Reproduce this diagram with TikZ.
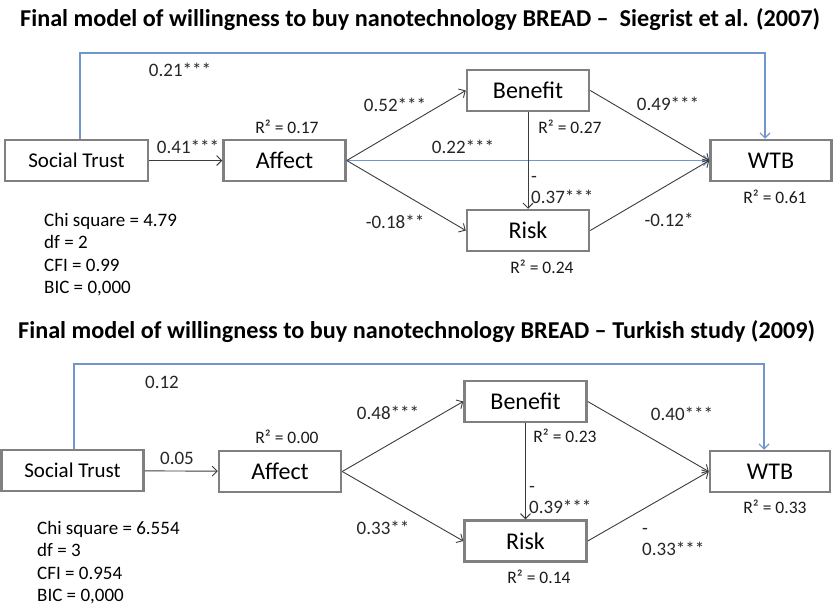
\documentclass[tikz,border=0pt]{standalone}
\usepackage{fontspec}
\setmainfont{Carlito}
\usetikzlibrary{arrows.meta}
\definecolor{BoxGray}{RGB}{128,128,128}
\definecolor{LineGray}{RGB}{60,60,60}
\definecolor{TrustBlue}{RGB}{112,150,206}

\begin{document}
\begin{tikzpicture}[x=1pt,y=-1pt]
  \tikzset{BoxStyle/.style = {
    shape          = rectangle,
    draw           = BoxGray,
    fill           = white,
    line width     = 2.5pt,
    text           = black,
    inner sep      = 0pt,
    minimum width  = 122pt,
    minimum height = 41pt,
    font           = \fontsize{24}{28}\selectfont
    }
  }
  \tikzset{EdgeStyle/.style = {
    draw       = LineGray,
    line width = 0.9pt,
    -{Straight Barb[length=5pt,width=10pt]}
    }
  }
  \tikzset{TrustStyle/.style = {
    draw       = TrustBlue,
    line width = 1.2pt,
    -{Straight Barb[length=5pt,width=10pt]}
    }
  }
  \tikzset{EdgeLabelStyle/.style = {
    inner sep = 0pt,
    text      = black!85,
    font      = \fontsize{19}{20.5}\selectfont
    }
  }
  \tikzset{SplitLabelStyle/.style = {
    EdgeLabelStyle,
    align  = left,
    anchor = north west
    }
  }
  \tikzset{RsqStyle/.style = {
    inner sep = 0pt,
    text      = black!90,
    font      = \fontsize{17.5}{20}\selectfont
    }
  }
  \tikzset{StatStyle/.style = {
    inner sep = 0pt,
    align     = left,
    anchor    = north west,
    font      = \fontsize{19}{22.5}\selectfont
    }
  }
  \tikzset{TitleStyle/.style = {
    inner sep = 0pt,
    anchor    = base west,
    font      = \bfseries\fontsize{24.2}{28}\selectfont
    }
  }

  \useasboundingbox (0,0) rectangle (833,608);

  % Siegrist et al. (2007)
  \node[TitleStyle](T1) at (20,26) {Final model of willingness to buy nanotechnology BREAD –\ \ Siegrist et al. (2007)};
  \node[BoxStyle, minimum width=143pt, font=\fontsize{21}{25}\selectfont](ST1) at (76.5,160.5) {Social Trust};
  \node[BoxStyle](AF1) at (284.5,160.5) {Affect};
  \node[BoxStyle](BE1) at (528,90.5) {Benefit};
  \node[BoxStyle](RI1) at (528,230.5) {Risk};
  \node[BoxStyle, minimum width=121pt](WT1) at (771,160.5) {WTB};
  \coordinate (Top1) at (420,53);
  \draw[TrustStyle]([xshift=3.5pt]ST1.north) |- (Top1) -| ([xshift=-6pt]WT1.north);
  \draw[TrustStyle](AF1.east) -- (WT1.west);
  \draw[EdgeStyle](ST1) -- (AF1);
  \draw[EdgeStyle](AF1.east) -- (BE1.west);
  \draw[EdgeStyle](AF1.east) -- (RI1.west);
  \draw[EdgeStyle](BE1.east) -- (WT1.west);
  \draw[EdgeStyle](RI1.east) -- (WT1.west);
  \draw[EdgeStyle](BE1) -- (RI1);
  \node[EdgeLabelStyle](a1) at (180,70) {0.21***};
  \node[EdgeLabelStyle](b1) at (188,147) {0.41***};
  \node[EdgeLabelStyle](c1) at (395,105) {0.52***};
  \node[EdgeLabelStyle](d1) at (463,147) {0.22***};
  \node[EdgeLabelStyle](e1) at (395,222) {-0.18**};
  \node[EdgeLabelStyle](f1) at (668,104) {0.49***};
  \node[EdgeLabelStyle](g1) at (669,220) {-0.12*};
  \node[SplitLabelStyle](h1) at (531,168) {\strut-\\0.37***};
  \node[RsqStyle](r11) at (287,127) {R² = 0.17};
  \node[RsqStyle](r12) at (570,127) {R² = 0.27};
  \node[RsqStyle](r13) at (542,267) {R² = 0.24};
  \node[RsqStyle](r14) at (775,197) {R² = 0.61};
  \node[StatStyle](S1) at (44,213) {Chi square = 4.79\\df = 2\\CFI = 0.99\\BIC = 0,000};

  % Turkish study (2009)
  \node[TitleStyle](T2) at (18,338) {Final model of willingness to buy nanotechnology BREAD – Turkish study (2009)};
  \node[BoxStyle, minimum width=142pt, font=\fontsize{21}{25}\selectfont](ST2) at (72.5,470.5) {Social Trust};
  \node[BoxStyle](AF2) at (280,471.5) {Affect};
  \node[BoxStyle](BE2) at (525.5,401.5) {Benefit};
  \node[BoxStyle](RI2) at (525.5,541) {Risk};
  \node[BoxStyle, minimum width=120pt](WT2) at (770,471.5) {WTB};
  \coordinate (Top2) at (420,364);
  \draw[TrustStyle]([xshift=1.5pt]ST2.north) |- (Top2) -| ([xshift=-6pt]WT2.north);
  \draw[EdgeStyle](ST2) -- (AF2);
  \draw[EdgeStyle](AF2.east) -- (BE2.west);
  \draw[EdgeStyle](AF2.east) -- (RI2.west);
  \draw[EdgeStyle](BE2.east) -- (WT2.west);
  \draw[EdgeStyle](RI2.east) -- (WT2.west);
  \draw[EdgeStyle](BE2) -- (RI2);
  \node[EdgeLabelStyle](a2) at (162,382) {0.12};
  \node[EdgeLabelStyle](b2) at (177,458) {0.05};
  \node[EdgeLabelStyle](c2) at (388,413) {0.48***};
  \node[EdgeLabelStyle](e2) at (383,528) {0.33**};
  \node[EdgeLabelStyle](f2) at (682,414) {0.40***};
  \node[SplitLabelStyle](g2) at (642,520) {\strut-\\0.33***};
  \node[SplitLabelStyle](h2) at (529,478) {\strut-\\0.39***};
  \node[RsqStyle](r21) at (287,437) {R² = 0.00};
  \node[RsqStyle](r22) at (565,436) {R² = 0.23};
  \node[RsqStyle](r23) at (539,577) {R² = 0.14};
  \node[RsqStyle](r24) at (775,507) {R² = 0.33};
  \node[StatStyle](S2) at (37,521) {Chi square = 6.554\\df = 3\\CFI = 0.954\\BIC = 0,000};
\end{tikzpicture}
\end{document}
